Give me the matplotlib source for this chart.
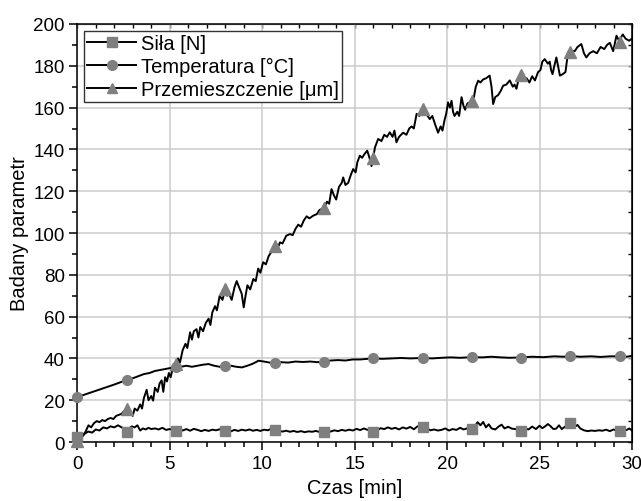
import numpy as np
import matplotlib.pyplot as plt
from matplotlib.lines import Line2D
from matplotlib.ticker import MultipleLocator

plt.rcParams['font.family'] = ['Liberation Sans', 'DejaVu Sans']

# --- data ---
t_przem = [0.0, 0.15, 0.3, 0.45, 0.6, 0.75, 0.9, 1.05, 1.2, 1.35, 1.5, 1.65, 1.8, 1.95, 2.1, 2.25,
           2.4, 2.55, 2.7, 2.85, 3.0, 3.1, 3.25, 3.4, 3.5, 3.6, 3.75, 3.85, 4.0, 4.1, 4.2, 4.35,
           4.45, 4.56, 4.65, 4.75, 4.85, 4.95, 5.05, 5.15, 5.33, 5.45, 5.55, 5.7, 5.85, 5.95, 6.1,
           6.2, 6.3, 6.45, 6.55, 6.65, 6.8, 6.95, 7.1, 7.2, 7.3, 7.45, 7.55, 7.7, 7.85, 8.0, 8.1,
           8.2, 8.35, 8.5, 8.62, 8.75, 8.89, 9.0, 9.1, 9.2, 9.35, 9.52, 9.65, 9.78, 9.9, 10.05,
           10.2, 10.35, 10.5, 10.67, 10.8, 10.96, 11.1, 11.3, 11.5, 11.65, 11.8, 11.95, 12.1, 12.25,
           12.4, 12.55, 12.76, 12.95, 13.1, 13.35, 13.5, 13.62, 13.75, 13.88, 14.0, 14.15, 14.3,
           14.38, 14.5, 14.65, 14.8, 14.92, 15.05, 15.15, 15.28, 15.4, 15.55, 15.68, 15.8, 15.91,
           16.0, 16.1, 16.27, 16.45, 16.6, 16.75, 16.9, 17.05, 17.15, 17.26, 17.4, 17.62, 17.8,
           17.95, 18.08, 18.2, 18.35, 18.5, 18.67, 18.8, 18.95, 19.06, 19.2, 19.35, 19.51, 19.65,
           19.75, 19.86, 19.95, 20.05, 20.15, 20.24, 20.32, 20.4, 20.55, 20.65, 20.78, 20.88,
           20.97, 21.1, 21.32, 21.45, 21.55, 21.68, 21.8, 21.95, 22.1, 22.3, 22.4, 22.49, 22.6,
           22.76, 22.9, 23.03, 23.2, 23.39, 23.55, 23.65, 23.75, 23.85, 23.97, 24.1, 24.3, 24.45,
           24.6, 24.75, 24.92, 25.05, 25.15, 25.28, 25.45, 25.55, 25.62, 25.7, 25.8, 25.91, 26.0,
           26.1, 26.25, 26.4, 26.54, 26.7, 26.9, 27.05, 27.26, 27.4, 27.53, 27.7, 27.9, 28.1,
           28.3, 28.5, 28.65, 28.8, 28.98, 29.16, 29.3, 29.5, 29.65, 29.84, 30.0]
przem = [0, 1, 3, 5, 8, 7, 9, 10, 9.5, 10.5, 10, 11, 11.5, 11, 12.5, 13,
         13.5, 15, 15, 14, 12.5, 16, 15, 18, 16, 21, 25, 20, 22, 19.8, 26, 24,
         28, 29.5, 24, 31, 29, 33, 31, 35, 37, 40, 38, 44, 47, 45, 52.5,
         49, 53, 54, 50, 55, 53, 57, 59, 56, 62, 65, 63, 70, 68, 73, 70,
         71, 68, 74, 77, 74, 71, 64.4, 70, 75, 73, 78, 77, 83, 81, 86,
         85, 89, 91, 93, 92, 95.5, 95, 98.7, 99.5, 99, 102, 104, 103, 106,
         108, 107, 108.3, 109, 111, 112, 115, 114, 121, 118, 116, 122, 124,
         126.6, 123, 124, 128, 130.6, 129, 134, 137, 136, 138, 139.4, 136, 132,
         136, 141, 145, 144, 147, 146, 148.2, 146, 149, 143.4, 146, 148, 147,
         150, 151, 150, 157, 156, 159, 158, 156, 154.5, 156, 152, 148, 151,
         149, 154, 157, 162.5, 160, 163.3, 158, 156, 158, 156, 165, 161,
         159, 162, 163, 165, 170, 172.9, 172, 173.5, 174, 175.3, 170, 161.7, 165,
         166, 168, 170.5, 171, 173, 170, 171, 169, 173, 175.6, 174, 174, 172,
         175, 173, 177, 178, 182, 183.2, 181, 182, 178, 176, 180, 184, 180,
         175.3, 176, 177, 186.5, 187, 187, 189, 190.4, 186, 184, 186, 187, 186,
         189, 188, 190, 191, 187, 194.4, 192, 195, 193, 192, 193]

t_temp = [0, 0.5, 1, 1.5, 2, 2.67, 3, 3.3, 3.6, 3.9, 4.2, 4.5, 4.8, 5.1, 5.33, 5.6, 5.9, 6.2,
          6.5, 6.8, 7.1, 7.4, 7.7, 8.0, 8.3, 8.6, 8.9, 9.2, 9.5, 9.8, 10.1, 10.4, 10.67, 11,
          11.4, 11.8, 12.2, 12.6, 13, 13.33, 13.7, 14.1, 14.5, 14.9, 15.3, 15.7, 16, 16.5, 17,
          17.5, 18, 18.67, 19.2, 19.7, 20.2, 20.7, 21.33, 21.9, 22.4, 22.9, 23.4, 24, 24.6,
          25.2, 25.8, 26.3, 26.67, 27.2, 27.8, 28.3, 28.8, 29.33, 29.7, 30]
temp = [21.5, 23, 24.5, 26, 27.5, 29.7, 30.5, 31.5, 32.5, 33, 34, 34.5, 35, 35.5, 36, 36, 36.5, 36,
        36.5, 37, 37.3, 36.5, 36, 36.2, 36.5, 36, 35.7, 36.5, 37.5, 38.9, 38.5, 38, 37.8, 38.2,
        38, 38.5, 38.3, 38.5, 38.2, 38.4, 39, 39.2, 39, 39.5, 39.5, 39.8, 40, 39.8, 40,
        40.2, 40, 40.2, 40, 40.3, 40.5, 40.3, 40.6, 40.5, 40.8, 40.5, 40.3, 40.5, 40.8,
        40.6, 41, 40.8, 41.1, 40.8, 41, 40.7, 41, 41, 40.8, 41.2]

t_sila = [0, 0.2, 0.4, 0.6, 0.8, 1.0, 1.2, 1.4, 1.6, 1.8, 2.0, 2.2, 2.4, 2.55, 2.67, 2.8, 2.95,
          3.1, 3.25, 3.4, 3.55, 3.7, 3.85, 4.0, 4.2, 4.4, 4.6, 4.8, 5.0, 5.2, 5.33, 5.5, 5.7,
          5.9, 6.1, 6.3, 6.5, 6.7, 6.9, 7.1, 7.3, 7.5, 7.7, 7.9, 8.1, 8.3, 8.5, 8.7, 8.9, 9.1,
          9.3, 9.5, 9.7, 9.9, 10.1, 10.3, 10.5, 10.67, 10.9, 11.1, 11.3, 11.5, 11.7, 11.9, 12.1,
          12.3, 12.5, 12.7, 12.9, 13.1, 13.33, 13.5, 13.7, 13.9, 14.1, 14.3, 14.5, 14.7, 14.9,
          15.1, 15.3, 15.5, 15.7, 15.85, 16.0, 16.2, 16.4, 16.6, 16.8, 17.0, 17.2, 17.4, 17.6,
          17.8, 18.0, 18.2, 18.4, 18.67, 18.9, 19.1, 19.3, 19.5, 19.7, 19.9, 20.1, 20.3, 20.5,
          20.7, 20.9, 21.1, 21.33, 21.5, 21.65, 21.8, 21.95, 22.1, 22.25, 22.4, 22.6, 22.8,
          22.95, 23.1, 23.3, 23.5, 23.7, 23.85, 24.0, 24.2, 24.4, 24.6, 24.8, 25.0, 25.15,
          25.3, 25.45, 25.6, 25.75, 25.9, 26.05, 26.2, 26.4, 26.6, 26.75, 26.9, 27.05, 27.2,
          27.4, 27.6, 27.8, 28.0, 28.2, 28.4, 28.6, 28.8, 29.0, 29.2, 29.33, 29.5, 29.7, 29.85, 30.0]
sila = [0, 2, 4, 5, 4.5, 6, 5.5, 7, 6.5, 7.5, 7, 8, 7, 6.5, 5, 6.5, 7.5,
        7, 8, 5.5, 6.5, 6, 6.8, 6.2, 6.5, 6, 6.8, 5.8, 6.2, 5.6, 5.7, 6.5, 5.5,
        6.2, 5.4, 6.3, 5.8, 5.2, 5.8, 5.3, 5.9, 5.6, 6.1, 5.4, 5.6, 5.1, 5.8, 5.3, 5.9, 5.5,
        6, 5.4, 5.8, 5.3, 5.9, 5.6, 6.4, 5.7, 5.3, 5.0, 5.4, 4.9, 5.3, 4.8, 5.2,
        4.7, 5.1, 4.9, 5.3, 4.8, 4.7, 5.3, 5.0, 5.6, 5.2, 5.8, 5.4, 5.9, 5.5,
        6.3, 5.7, 6.5, 5.8, 6.4, 5.0, 5.5, 6.6, 6.2, 7.0, 6.3, 6.8, 6.0, 7.0,
        6.4, 7.2, 6.1, 7.5, 7.2, 6.5, 5.6, 6.0, 5.5, 5.8, 6.5, 5.5, 6.2, 5.8,
        6.8, 6.0, 6.6, 6.3, 7.5, 9.5, 8, 9.6, 7, 8.5, 6.5, 6.0, 7.5,
        8.3, 6.5, 7.3, 6.4, 6.2, 5.6, 5.5, 6.5, 6.0, 7.4, 6.2, 7.8, 6.6,
        7.5, 8.6, 7.5, 6.2, 6.4, 8.0, 6.2, 7.5, 8.5, 8.8, 7.2, 8.2, 6.5,
        5.6, 5.2, 5.5, 5.3, 5.6, 5.4, 5.9, 5.2, 6.0, 5.4, 5.4, 6.2, 5.7, 6.5, 5.5]

t_marks = [0, 2.67, 5.33, 8.0, 10.67, 13.33, 16.0, 18.67, 21.33, 24.0, 26.67, 29.33]
sila_marks = [2.5, 4.9, 5.5, 5.5, 5.7, 4.6, 4.9, 7.0, 6.2, 5.4, 8.9, 5.4]
temp_marks = [21.4, 29.7, 36.0, 36.2, 37.8, 38.4, 40.0, 40.0, 40.6, 40.4, 41.1, 41.0]
przem_marks = [0.5, 15.8, 37.3, 73.0, 93.6, 111.8, 135.7, 159.3, 163.3, 175.6, 186.8, 191.5]

labels = ['Siła [N]', 'Temperatura [°C]', 'Przemieszczenie [μm]']
markers = ['s', 'o', '^']

gray = '#7f7f7f'
lw = 1.4

fig = plt.figure(figsize=(6.41, 5.02), dpi=100)
ax = fig.add_axes([0.1206, 0.1175, 0.8654, 0.8327])

series = [(t_sila, sila, sila_marks), (t_temp, temp, temp_marks), (t_przem, przem, przem_marks)]
for (tt, vv, mm), mk in zip(series, markers):
    ax.plot(tt, vv, color='black', lw=lw, zorder=3)
    ax.plot(t_marks, mm, ls='none', marker=mk, ms=7 if mk != '^' else 8,
            mfc=gray, mec=gray, zorder=4, clip_on=False)

ax.set_xlim(0, 30)
ax.set_ylim(0, 200)
ax.xaxis.set_major_locator(MultipleLocator(5))
ax.xaxis.set_minor_locator(MultipleLocator(1))
ax.yaxis.set_major_locator(MultipleLocator(20))
ax.yaxis.set_minor_locator(MultipleLocator(10))
ax.grid(True, which='major', color='#cccccc', lw=1.1, zorder=0)
ax.set_axisbelow(True)

ax.tick_params(which='major', direction='out', length=5.5, width=1.1, labelsize=13.5)
ax.tick_params(which='minor', direction='out', length=3.5, width=1.1)
for s in ax.spines.values():
    s.set_linewidth(1.1)

# inward ticks on top and right like the original
top = ax.secondary_xaxis('top')
top.xaxis.set_major_locator(MultipleLocator(5))
top.xaxis.set_minor_locator(MultipleLocator(1))
top.tick_params(which='both', direction='in', length=3, width=1, labeltop=False)
right = ax.secondary_yaxis('right')
right.yaxis.set_major_locator(MultipleLocator(20))
right.yaxis.set_minor_locator(MultipleLocator(10))
right.tick_params(which='both', direction='in', length=3, width=1, labelright=False)

ax.set_xlabel('Czas [min]', fontsize=14.5, labelpad=5)
ax.set_ylabel('Badany parametr', fontsize=14.5, labelpad=3)

handles = [Line2D([], [], color='black', lw=lw, marker=mk, ms=7, mfc=gray, mec=gray)
           for mk in markers]
leg = ax.legend(handles, labels, loc='upper left', fontsize=14.5, frameon=True, fancybox=False,
                borderaxespad=0.35, handlelength=2.4, handletextpad=0.25, labelspacing=0.2,
                borderpad=0.15, framealpha=1)
leg.get_frame().set_edgecolor('#333333')
leg.get_frame().set_linewidth(1.0)

fig.savefig('out.png', dpi=100)
